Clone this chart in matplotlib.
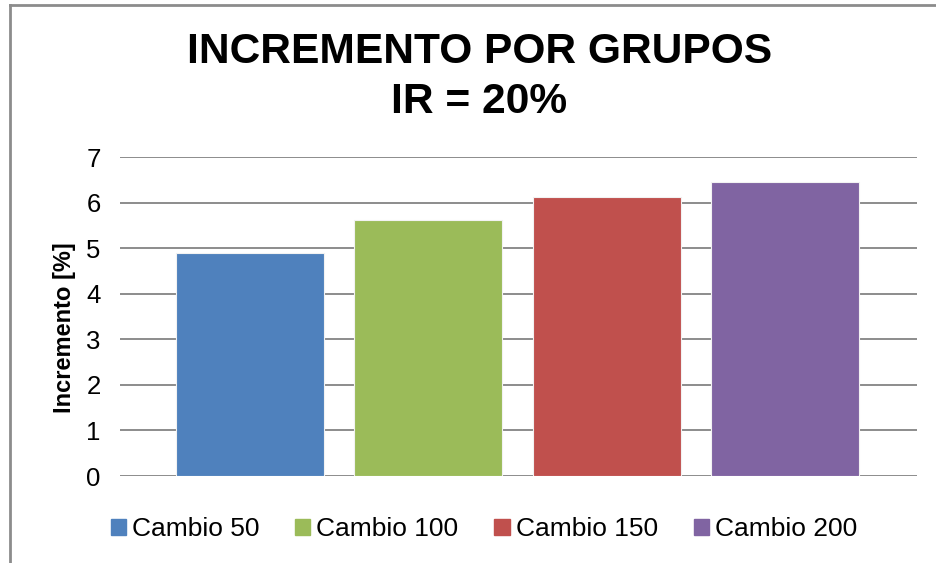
import matplotlib
matplotlib.use("Agg")
import matplotlib.pyplot as plt
import matplotlib.patches as mpatches
from matplotlib.lines import Line2D

plt.rcParams["font.family"] = ["Liberation Sans", "DejaVu Sans"]

# ── Data ──────────────────────────────────────────────────────────────────────
groups = ["Cambio 50", "Cambio 100", "Cambio 150", "Cambio 200"]
increments = [4.89, 5.62, 6.12, 6.46]
colors = ["#4F81BD", "#9BBB59", "#C0504D", "#8064A2"]
yticks = [0, 1, 2, 3, 4, 5, 6, 7]

# ── Figure ────────────────────────────────────────────────────────────────────
fig = plt.figure(figsize=(9.36, 5.63), dpi=100, facecolor="white")
ax = fig.add_axes([0.1282, 0.1545, 0.8515, 0.5666])

x = range(len(groups))
ax.bar(x, increments, width=0.83, color=colors, edgecolor="#f2f2f2",
       linewidth=0.8, zorder=3)

ax.set_xlim(-0.73, 3.74)
ax.set_ylim(0, 7)
ax.set_yticks(yticks)
ax.set_yticklabels([str(t) for t in yticks], fontsize=18.5)
ax.set_xticks([])
ax.tick_params(axis="y", length=0, pad=14)
ax.yaxis.grid(True, color="#8c8c8c", linewidth=1.4, zorder=0)
ax.set_axisbelow(True)
for s in ax.spines.values():
    s.set_visible(False)

ax.set_ylabel("Incremento [%]", fontsize=17, fontweight="bold")
ax.yaxis.set_label_coords(-0.055, 0.464)

fig.text(0.512, 0.907, "INCREMENTO POR GRUPOS", ha="center", va="center",
         fontsize=30.6, fontweight="bold")
fig.text(0.512, 0.818, "IR = 20%", ha="center", va="center",
         fontsize=30.6, fontweight="bold")

handles = [mpatches.Patch(color=c, label=g) for c, g in zip(colors, groups)]
fig.legend(handles=handles, loc="center", bbox_to_anchor=(0.517, 0.06),
           ncol=4, frameon=False, fontsize=19, handlelength=0.57,
           handleheight=0.57, handletextpad=0.23, columnspacing=1.36,
           borderpad=0, borderaxespad=0)

# chart border (top and left visible)
fig.add_artist(Line2D([0.011, 1.0], [0.9915, 0.9915], transform=fig.transFigure,
                      color="#8c8c8c", linewidth=2))
fig.add_artist(Line2D([0.011, 0.011], [0.9915, 0.0], transform=fig.transFigure,
                      color="#8c8c8c", linewidth=2))

fig.savefig("out.png", dpi=100, facecolor="white")
